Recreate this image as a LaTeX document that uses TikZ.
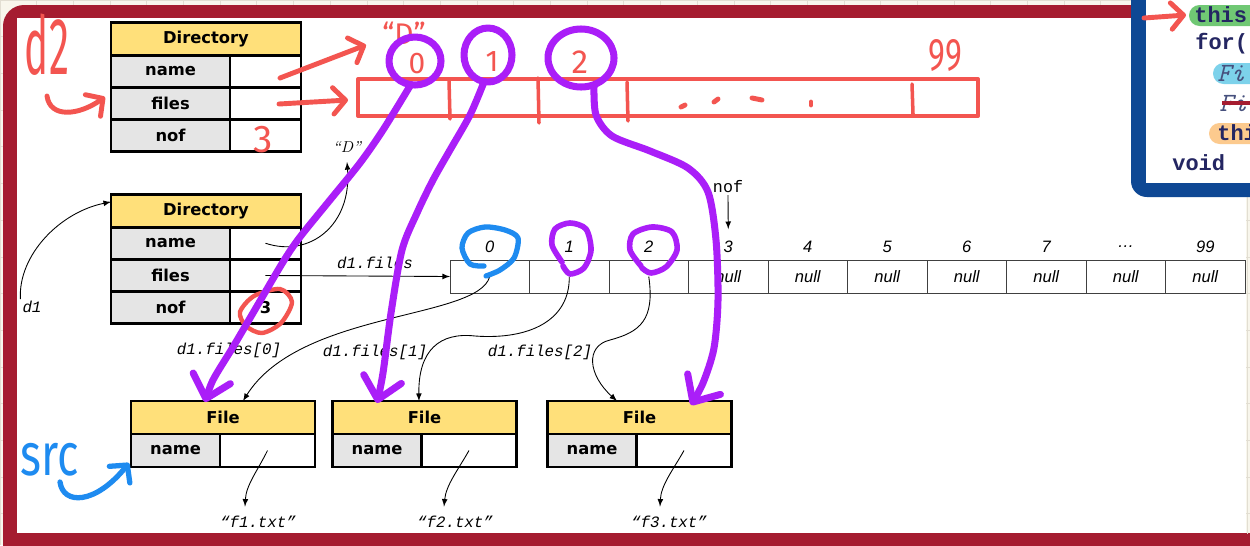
\documentclass[tikz,border=0pt]{standalone}
\usepackage{fontspec}
\usetikzlibrary{positioning,arrows.meta}
\newfontfamily\cellfont{DejaVu Sans}
\newfontfamily\ptrfont{Liberation Mono}
\newfontfamily\idxfont{Liberation Sans}
\newfontfamily\inkfont{Fira Sans}
\definecolor{paper}{RGB}{248,246,236}
\definecolor{gridline}{RGB}{226,222,210}
\definecolor{framered}{RGB}{165,28,48}
\definecolor{hdyellow}{RGB}{255,224,122}
\definecolor{keygray}{RGB}{229,229,229}
\definecolor{penred}{RGB}{243,85,80}
\definecolor{penpurple}{RGB}{170,30,248}
\definecolor{penblue}{RGB}{30,139,240}
\definecolor{codeblue}{RGB}{14,72,148}
\definecolor{codenavy}{RGB}{36,38,98}
\definecolor{codeslate}{RGB}{70,80,125}
\definecolor{hlgreen}{RGB}{112,200,116}
\definecolor{hlblue}{RGB}{125,210,235}
\definecolor{hlorange}{RGB}{252,202,142}
\tikzset{
  cell/.style={draw, line width=1.6pt, outer sep=0pt, inner sep=0pt, font=\cellfont\bfseries\fontsize{9.3}{11}\selectfont},
  hdcell/.style={cell, fill=hdyellow, minimum width=3.8cm, minimum height=0.645cm},
  keycell/.style={cell, fill=keygray, minimum width=2.38cm, minimum height=0.645cm},
  valcell/.style={cell, fill=white, minimum width=1.42cm, minimum height=0.645cm},
  fhdcell/.style={cell, fill=hdyellow, minimum width=3.68cm, minimum height=0.66cm},
  fkeycell/.style={cell, fill=keygray, minimum width=1.78cm, minimum height=0.66cm},
  fvalcell/.style={cell, fill=white, minimum width=1.9cm, minimum height=0.66cm},
  arrcell/.style={draw=black!75, line width=0.5pt, outer sep=0pt, minimum width=1.59cm, minimum height=0.66cm, font=\idxfont\itshape\fontsize{9.4}{10}\selectfont},
  idx/.style={font=\idxfont\itshape\fontsize{9.4}{10}\selectfont, inner sep=1pt},
  ttlbl/.style={font=\ptrfont\itshape\fontsize{9}{10}\selectfont, inner sep=1pt},
  ptr/.style={-latex, line width=0.5pt},
  redpen/.style={draw=penred, line width=2.8pt, line cap=round, line join=round},
  purpen/.style={draw=penpurple, line width=4pt, line cap=round, line join=round},
  bluepen/.style={draw=penblue, line width=3pt, line cap=round, line join=round},
  pentip/.style={-{Straight Barb[length=7pt, width=15pt, round]}},
  bigtip/.style={-{Straight Barb[length=12pt, width=22pt, round]}},
  pentxt/.style={font=\inkfont, inner sep=0pt},
  codetxt/.style={font=\ptrfont\bfseries\fontsize{12.5}{14}\selectfont, text=codenavy, anchor=west, inner sep=0pt},
  codeit/.style={codetxt, font=\ttfamily\itshape\fontsize{15}{16}\selectfont, text=codeslate},
}
\begin{document}
\begin{tikzpicture}[x=0.02cm, y=-0.02cm]
\useasboundingbox (0,0) rectangle (1250,545);
\clip (0,0) rectangle (1250,545);

% paper, frame
\fill[paper] (0,0) rectangle (1250,545);
\draw[gridline, line width=0.4pt] (0,0) grid[step=0.734cm] (1250,545);
\fill[framered, rounded corners=12pt] (3,5) rectangle (1300,600);
\fill[white] (17,18) rectangle (1246,533);
\begin{scope}
  \clip (1246,18) rectangle (1251,533);
  \fill[paper] (1246,18) rectangle (1251,533);
  \draw[gridline, line width=0.4pt] (0,0) grid[step=0.734cm] (1250,545);
\end{scope}

% directory objects
\node[hdcell] (dtwo) at (206,39) {Directory};
\node[keycell, below right=0pt and 0pt of dtwo.south west] (dtwoname) {name};
\node[valcell, right=0pt of dtwoname] (dtwonamev) {};
\node[keycell, below=0pt of dtwoname] (dtwofiles) {files};
\node[valcell, right=0pt of dtwofiles] (dtwofilesv) {};
\node[keycell, below=0pt of dtwofiles] (dtwonof) {nof};
\node[valcell, right=0pt of dtwonof] (dtwonofv) {};

\node[hdcell] (done) at (206,211) {Directory};
\node[keycell, below right=0pt and 0pt of done.south west] (donename) {name};
\node[valcell, right=0pt of donename] (donenamev) {};
\node[keycell, below=0pt of donename] (donefiles) {files};
\node[valcell, right=0pt of donefiles] (donefilesv) {};
\node[keycell, below=0pt of donefiles] (donenof) {nof};
\node[valcell, right=0pt of donenof] (donenofv) {3};

% the files array
\foreach \lbl [count=\i from 0] in {0,1,2,3,4,5,6,7,…,99} {
  \node[arrcell] (cell\i) at ({489.75+79.5*\i},276.5) {\ifnum\i>2 null\fi};
  \node[idx] (idx\i) at ({489.75+79.5*\i},247) {\lbl};
}

% file objects
\node[fhdcell] (fone) at (223,417.5) {File};
\node[fkeycell, below right=0pt and 0pt of fone.south west] (fonename) {name};
\node[fvalcell, right=0pt of fonename] (fonev) {};
\node[fhdcell] (ftwo) at (424.5,417.5) {File};
\node[fkeycell, below right=0pt and 0pt of ftwo.south west] (ftwoname) {name};
\node[fvalcell, right=0pt of ftwoname] (ftwov) {};
\node[fhdcell] (fthree) at (639.5,417.5) {File};
\node[fkeycell, below right=0pt and 0pt of fthree.south west] (fthreename) {name};
\node[fvalcell, right=0pt of fthreename] (fthreev) {};

% labels
\node[ttlbl] (doneref) at (32,307) {d1};
\node[ttlbl] (filesref) at (375,263) {d1.files};
\node[font=\ptrfont\fontsize{9.5}{10}\selectfont, inner sep=1pt] (nofref) at (728,187) {nof};
\node[ttlbl] (fref0) at (229,350) {d1.files[0]};
\node[ttlbl] (fref1) at (375,352) {d1.files[1]};
\node[ttlbl] (fref2) at (540,352) {d1.files[2]};
\node[font=\itshape\fontsize{9}{10}\selectfont, inner sep=1pt] (dstr) at (347,147) {“D”};
\node[ttlbl] (fonetxt) at (258,522) {“f1.txt”};
\node[ttlbl] (ftwotxt) at (455,522) {“f2.txt”};
\node[ttlbl] (fthreetxt) at (669,522) {“f3.txt”};

% references
\draw[ptr] (doneref.north west) .. controls (18,255) and (60,212) .. ([yshift=-0.14cm]done.north west);
\draw[ptr] (donenamev.center) .. controls (310,258) and (352,225) .. ([yshift=-0.15cm]dstr.south);
\draw[ptr] (donefilesv.center) -- (cell0.west);
\draw[ptr] (nofref.south) -- ([yshift=0.2cm]idx3.north);
\draw[ptr] (cell0.center) .. controls (478,320) and (300,310) .. ([xshift=0.4cm]fone.north);
\draw[ptr] (cell1.center) .. controls (570,320) and (530,340) .. (475,336) .. controls (440,332) and (418,350) .. ([xshift=-0.11cm]ftwo.north);
\draw[ptr] (cell2.center) .. controls (655,320) and (640,332) .. (610,340) .. controls (585,346) and (588,375) .. ([xshift=-0.45cm]fthree.north);
\draw[ptr] (fonev.center) .. controls (258,470) and (246,485) .. ([xshift=-0.26cm, yshift=0.15cm]fonetxt.north);
\draw[ptr] (ftwov.center) .. controls (458,470) and (446,485) .. ([xshift=-0.22cm, yshift=0.15cm]ftwotxt.north);
\draw[ptr] (fthreev.center) .. controls (673,470) and (661,485) .. ([xshift=-0.18cm, yshift=0.15cm]fthreetxt.north);

% code panel
\fill[codeblue, rounded corners=9pt] (1131,-30) rectangle (1290,197);
\fill[white] (1146,-30) rectangle (1290,183);
\fill[hlgreen, rounded corners=6pt] (1189,5) rectangle (1290,26);
\fill[hlblue, rounded corners=6pt] (1213,63) rectangle (1290,84);
\fill[hlorange, rounded corners=6pt] (1209,123) rectangle (1290,144);
\node[codetxt] (cone) at (1194,15) {this};
\node[codetxt] (ctwo) at (1195,44) {for(};
\node[codeit] (cthree) at (1217,74) {Fi};
\node[codeit] (cfour) at (1219,104) {Fi};
\draw[framered, line width=1.8pt] (1222,103) -- (1260,103);
\node[codetxt] (cfive) at (1217,133) {thi};
\node[codetxt] (csix) at (1172,163) {void};

% red ink
\node[pentxt, text=penred] (inkdtwo) at (47,45) {\fontsize{46}{46}\selectfont\scalebox{0.5}[1]{d2}};
\draw[redpen, pentip] (47,96) .. controls (50,118) and (78,116) .. (105,97);
\draw[redpen, pentip] (280,78) -- (366,45);
\draw[redpen, pentip] (279,104) -- (348,100);
\node[pentxt, text=penred] (inkthree) at (263,140) {\fontsize{22}{22}\selectfont 3};
\node[pentxt, text=penred] (inkd) at (404,33) {\fontsize{17}{17}\selectfont “D”};
\draw[redpen, line width=2.3pt] (358,79) rectangle (978,116);
\foreach \x/\t/\b in {449/80/119, 538/78/123, 627/82/121, 912/84/114}
  \draw[redpen, line width=2pt] (\x,\t) -- (\x+1,\b);
\draw[redpen] (681,107) -- (685,105);
\draw[redpen] (714,102) -- (718,99);
\draw[redpen] (752,98) -- (762,100);
\draw[redpen] (811,102) -- (811,105);
\node[pentxt, text=penred] (inkzero) at (417,64) {\fontsize{17}{17}\selectfont 0};
\node[pentxt, text=penred] (inkone) at (492,62) {\fontsize{17}{17}\selectfont 1};
\node[pentxt, text=penred] (inktwo) at (580,62) {\fontsize{19}{19}\selectfont 2};
\node[pentxt, text=penred] (inkmax) at (945,55) {\fontsize{26}{26}\selectfont\scalebox{0.7}[1]{99}};
\draw[redpen, line width=2.5pt] plot[smooth cycle] coordinates {(240,312) (254,296) (280,289) (292,302) (281,323) (262,333) (246,326)};
\draw[redpen, pentip] (1144,18) -- (1186,15);

% purple ink
\draw[purpen] (415,61) ellipse [x radius=26, y radius=24];
\draw[purpen] (488,55) ellipse [x radius=24, y radius=27];
\draw[purpen] (581,58) ellipse [x radius=33, y radius=29];
\draw[purpen, bigtip] plot[smooth] coordinates {(410,86) (383,130) (360,163) (330,200) (300,237) (283,262) (253,313) (233,347) (213,380) (205,402)};
\draw[purpen, bigtip] plot[smooth] coordinates {(484,82) (470,115) (450,150) (433,180) (417,213) (402,250) (391,313) (383,373) (377,403)};
\draw[purpen, bigtip] plot[smooth] coordinates {(594,86) (596,115) (612,136) (650,151) (688,168) (708,192) (716,240) (718,300) (714,348) (703,383) (691,405)};
\draw[purpen, line width=3.2pt] plot[smooth] coordinates {(562,262) (552,245) (555,229) (570,223) (586,229) (591,250) (584,268) (570,274) (563,266)};
\draw[purpen, line width=3.2pt] plot[smooth] coordinates {(641,266) (630,250) (633,234) (652,227) (672,232) (677,250) (666,267) (651,273) (642,268)};

% blue ink
\draw[bluepen] plot[smooth] coordinates {(484,266) (470,264) (462,248) (468,233) (485,227) (505,230) (518,238) (514,258) (500,270) (486,276)};
\node[pentxt, text=penblue] (inksrc) at (50,460) {\fontsize{34}{34}\selectfont\scalebox{0.75}[1]{src}};
\draw[bluepen, pentip] (60,482) .. controls (63,505) and (95,505) .. (129,463);
\end{tikzpicture}
\end{document}
